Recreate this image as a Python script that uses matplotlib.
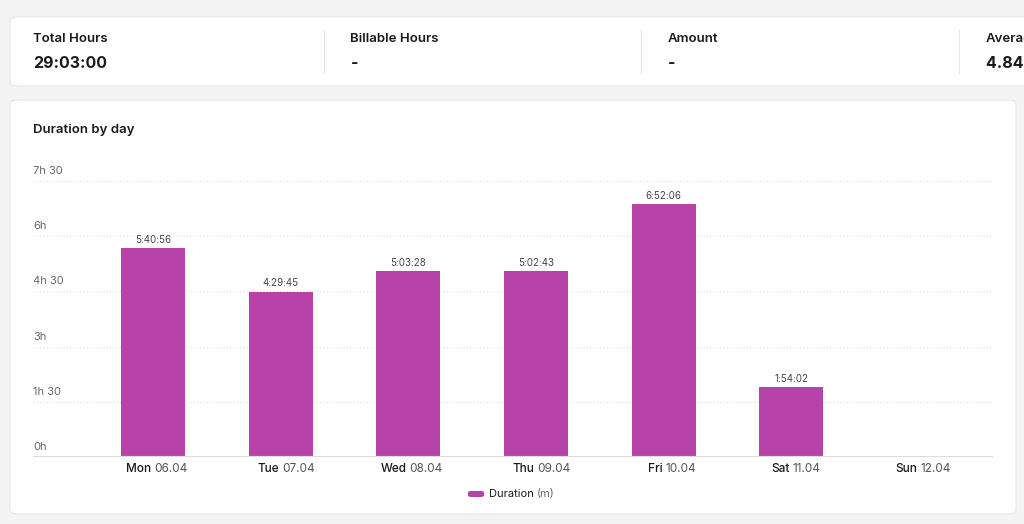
import matplotlib.pyplot as plt
from matplotlib.patches import FancyBboxPatch
import matplotlib.lines as mlines

plt.rcParams['font.family'] = ['Inter', 'DejaVu Sans']

days = ['Mon', 'Tue', 'Wed', 'Thu', 'Fri', 'Sat', 'Sun']
dates = ['06.04', '07.04', '08.04', '09.04', '10.04', '11.04', '12.04']
labels = ['5:40:56', '4:29:45', '5:03:28', '5:02:43', '6:52:06', '1:54:02', '']
minutes = [340.93, 269.75, 303.47, 302.72, 412.1, 114.03, 0]
yticks = [0, 90, 180, 270, 360, 450]
ytick_labels = ['0h', '1h 30', '3h', '4h 30', '6h', '7h 30']
stats = [('Total Hours', '29:03:00'), ('Billable Hours', '-'), ('Amount', '-'), ('Average', '4.84 h')]

W, H = 1024, 524
fig = plt.figure(figsize=(W / 100, H / 100), dpi=100, facecolor='#f4f4f4')

def px(x, y):
    return x / W, 1 - y / H

# cards (behind the axes)
for (x0, y0, x1, y1) in [(10, 17, 1040, 86), (10, 100, 1016, 514)]:
    fig.patches.append(FancyBboxPatch((x0 / W, 1 - y1 / H), (x1 - x0) / W, (y1 - y0) / H,
                                      boxstyle='round,pad=0,rounding_size=0.008',
                                      transform=fig.transFigure, facecolor='white',
                                      edgecolor='#e6e6e6', linewidth=0.8, zorder=-10))

for i, (t, v) in enumerate(stats):
    x = 33 + i * 317.5
    fig.text(*px(x, 39), t, fontsize=9.5, fontweight='semibold', color='#1a1a1a', va='center')
    fig.text(*px(x, 63), v, fontsize=11.5, fontweight='bold', color='#1a1a1a', va='center')
    if i > 0:
        fig.lines.append(mlines.Line2D([(x - 27) / W] * 2, [1 - 30 / H, 1 - 73 / H],
                                       transform=fig.transFigure, color='#e6e6e6', lw=0.8))

fig.text(*px(33, 130), 'Duration by day', fontsize=9.5, fontweight='semibold', color='#1a1a1a', va='center')

ax = fig.add_axes([33 / W, 1 - 457 / H, (993 - 33) / W, (457 - 181) / H])
ax.set_facecolor('none')
x = range(len(days))
ax.bar(x, minutes, width=0.5, color='#b743aa', label='Duration (m)', zorder=3)
for xi, m, lab in zip(x, minutes, labels):
    ax.text(xi, m + 5, lab, ha='center', va='bottom', fontsize=7, color='#444444')

ax.set_xlim(-0.94, 6.58)
ax.set_ylim(0, 450)
for yt, yl in zip(yticks, ytick_labels):
    if yt > 0:
        ax.axhline(yt, color='#dddddd', lw=0.8, ls=(0, (1, 2)), zorder=1)
    ax.text(0, yt + 8, yl, transform=ax.get_yaxis_transform(), fontsize=8, color='#666666', va='bottom')
ax.axhline(0, color='#dddddd', lw=1.5, zorder=4)
for s in ax.spines.values():
    s.set_visible(False)
ax.set_yticks([])
ax.set_xticks([])
for xi, d, dt in zip(x, days, dates):
    ax.annotate(d, (xi, 0), xytext=(-1, -9), textcoords='offset points', ha='right', va='center',
                fontsize=8.5, fontweight='medium', color='#1a1a1a', xycoords=('data', 'axes fraction'))
    ax.annotate(dt, (xi, 0), xytext=(1, -9), textcoords='offset points', ha='left', va='center',
                fontsize=8.5, color='#555555', xycoords=('data', 'axes fraction'))

fig.patches.append(FancyBboxPatch((468 / W, 1 - 497 / H), 16 / W, 6 / H,
                                  boxstyle='round,pad=0,rounding_size=0.003',
                                  transform=fig.transFigure, facecolor='#b743aa', edgecolor='none'))
fig.text(*px(489, 494), 'Duration', fontsize=8, color='#1a1a1a', va='center')
fig.text(*px(537, 494), '(m)', fontsize=8, color='#666666', va='center')

fig.savefig('out.png', dpi=100, facecolor=fig.get_facecolor())
